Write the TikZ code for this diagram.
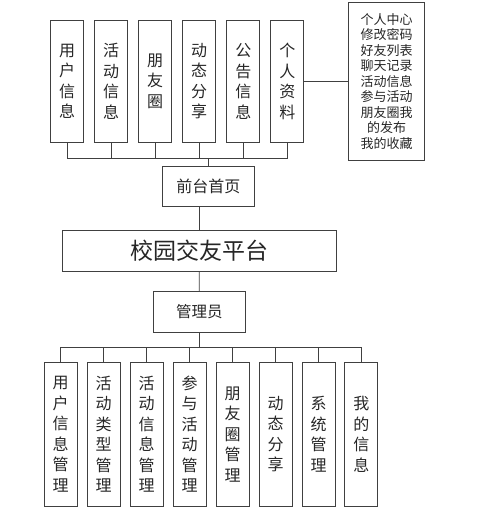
\documentclass[tikz,border=0pt]{standalone}
\usepackage{fontspec}
\setmainfont{Noto Sans CJK SC}
\usepackage{tikz}
\usetikzlibrary{positioning}
\tikzset{%
	every box/.style={
		draw=black!75,
		line width=0.8pt,
		inner sep=0pt,
		align=center,
		text=black!85
	},
	col box/.style={
		every box,
		minimum width=33pt,
		font=\fontsize{16}{20.5}\selectfont
	},
	link/.style={
		draw=black!75,
		line width=0.8pt
	},
}
\begin{document}
\begin{tikzpicture}[x=1pt,y=-1pt]
			\useasboundingbox (0,0) rectangle (500,511);
			
			% front side
			\node[col box, minimum height=122.7pt] (u1) at (67,81.3) {用\\户\\信\\息};
			\node[col box, minimum height=122.7pt] (u2) at (111.2,81.3) {活\\动\\信\\息};
			\node[col box, minimum height=122.7pt] (u3) at (155.2,81.3) {朋\\友\\圈};
			\node[col box, minimum height=122.7pt] (u4) at (199.2,81.3) {动\\态\\分\\享};
			\node[col box, minimum height=122.7pt] (u5) at (243.3,81.3) {公\\告\\信\\息};
			\node[col box, minimum height=122.7pt] (u6) at (287.3,81.3) {个\\人\\资\\料};
			
			\node[every box, minimum width=75.6pt, minimum height=158pt,
				font=\fontsize{13}{15.5}\selectfont] (mine) at (386.5,81.3)
				{个人中心\\修改密码\\好友列表\\聊天记录\\活动信息\\参与活动\\朋友圈我\\的发布\\我的收藏};
			\draw[link] (u6.east) -- (mine.west);
			
			\node[every box, minimum width=92pt, minimum height=40.7pt,
				font=\fontsize{16}{20}\selectfont] (front) at (208.3,186.3) {前台首页};
			
			\coordinate (topbus) at (208.3,158.3);
			\draw[link] (u1.south) |- (topbus);
			\draw[link] (u6.south) |- (topbus);
			\draw[link] (u2.south) -- (u2.south |- topbus);
			\draw[link] (u3.south) -- (u3.south |- topbus);
			\draw[link] (u4.south) -- (u4.south |- topbus);
			\draw[link] (u5.south) -- (u5.south |- topbus);
			\draw[link] (topbus) -- (front.north);
			
			% platform
			\node[every box, minimum width=273.7pt, minimum height=41pt,
				font=\fontsize{23}{26}\selectfont] (platform) at (199.2,250.5) {校园交友平台};
			\draw[link] (platform.north) -- (platform.north |- front.south);
			
			% admin side
			\node[every box, minimum width=92pt, minimum height=40.7pt,
				font=\fontsize{15.5}{20}\selectfont] (admin) at (199.3,311.6) {管理员};
			\draw[link] (platform.south) -- (admin.north);
			
			\node[col box, minimum height=143.3pt] (a1) at (60.7,434.3) {用\\户\\信\\息\\管\\理};
			\node[col box, minimum height=143.3pt] (a2) at (103.7,434.3) {活\\动\\类\\型\\管\\理};
			\node[col box, minimum height=143.3pt] (a3) at (146.7,434.3) {活\\动\\信\\息\\管\\理};
			\node[col box, minimum height=143.3pt] (a4) at (189.5,434.3) {参\\与\\活\\动\\管\\理};
			\node[col box, minimum height=143.3pt] (a5) at (232.7,434.3) {朋\\友\\圈\\管\\理};
			\node[col box, minimum height=143.3pt] (a6) at (275.5,434.3) {动\\态\\分\\享};
			\node[col box, minimum height=143.3pt] (a7) at (318.5,434.3) {系\\统\\管\\理};
			\node[col box, minimum height=143.3pt] (a8) at (361.3,434.3) {我\\的\\信\\息};
			
			\coordinate (lowbus) at (199.3,347.3);
			\draw[link] (admin.south) -- (lowbus);
			\draw[link] (a1.north) |- (lowbus);
			\draw[link] (a8.north) |- (lowbus);
			\draw[link] (a2.north) -- (a2.north |- lowbus);
			\draw[link] (a3.north) -- (a3.north |- lowbus);
			\draw[link] (a4.north) -- (a4.north |- lowbus);
			\draw[link] (a5.north) -- (a5.north |- lowbus);
			\draw[link] (a6.north) -- (a6.north |- lowbus);
			\draw[link] (a7.north) -- (a7.north |- lowbus);
\end{tikzpicture}
\end{document}
